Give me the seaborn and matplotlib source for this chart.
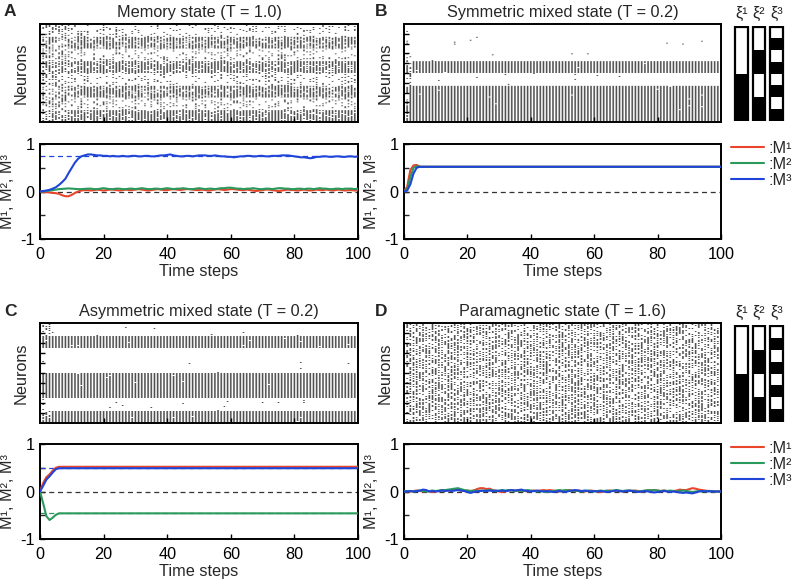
import numpy as np
import pandas as pd
import matplotlib
matplotlib.use("Agg")
import matplotlib.pyplot as plt
from matplotlib.colors import ListedColormap
from matplotlib.lines import Line2D
import seaborn as sns

sns.set_theme(style="white")
plt.rcParams["font.family"] = ["Liberation Sans", "DejaVu Sans"]
plt.rcParams["axes.unicode_minus"] = False

# ---------------- data ----------------
time_steps = list(range(101))

# stored patterns, 8 neuron blocks from top to bottom (1 = black / active, -1 = white)
xi1 = [-1, -1, -1, -1, 1, 1, 1, 1]
xi2 = [-1, -1, 1, 1, -1, -1, 1, 1]
xi3 = [-1, 1, -1, 1, -1, 1, -1, 1]
pattern_labels = ["ξ¹", "ξ²", "ξ³"]

n_neurons = 100

panel_titles = ["Memory state (T = 1.0)", "Symmetric mixed state (T = 0.2)",
                "Asymmetric mixed state (T = 0.2)", "Paramagnetic state (T = 1.6)"]
panel_letters = ["A", "B", "C", "D"]
temperatures = [1.0, 0.2, 0.2, 1.6]

# overlaps M1, M2, M3 per time step
A_M1 = [0.00, -0.01, -0.015, -0.02, -0.03, -0.035, -0.05, -0.08, -0.10, -0.10, -0.07, -0.03, 0.00, 0.02, 0.03,
        0.03, 0.02, 0.03, 0.04, 0.03, 0.02, 0.03, 0.04, 0.04, 0.03, 0.02, 0.03, 0.04, 0.03, 0.03,
        0.04, 0.05, 0.04, 0.03, 0.02, 0.03, 0.04, 0.05, 0.04, 0.03, 0.03, 0.04, 0.05, 0.04, 0.03,
        0.04, 0.05, 0.05, 0.04, 0.03, 0.03, 0.04, 0.03, 0.02, 0.03, 0.04, 0.05, 0.04, 0.03, 0.04,
        0.05, 0.05, 0.04, 0.03, 0.03, 0.04, 0.03, 0.02, 0.01, 0.02, 0.03, 0.04, 0.04, 0.03, 0.02,
        0.01, 0.02, 0.03, 0.04, 0.03, 0.03, 0.02, 0.03, 0.04, 0.03, 0.02, 0.03, 0.04, 0.03, 0.03,
        0.04, 0.03, 0.02, 0.03, 0.04, 0.03, 0.02, 0.03, 0.03, 0.02, 0.03]
A_M2 = [0.00, 0.005, 0.01, 0.02, 0.03, 0.04, 0.05, 0.055, 0.06, 0.065, 0.06, 0.055, 0.05, 0.05, 0.055,
        0.06, 0.06, 0.05, 0.05, 0.06, 0.07, 0.06, 0.05, 0.05, 0.06, 0.06, 0.05, 0.05, 0.06, 0.06,
        0.05, 0.06, 0.07, 0.06, 0.05, 0.05, 0.06, 0.06, 0.05, 0.06, 0.07, 0.06, 0.05, 0.06, 0.06,
        0.07, 0.06, 0.05, 0.05, 0.06, 0.07, 0.06, 0.05, 0.06, 0.06, 0.05, 0.06, 0.07, 0.07, 0.08,
        0.08, 0.07, 0.06, 0.06, 0.05, 0.06, 0.06, 0.07, 0.06, 0.05, 0.05, 0.06, 0.06, 0.05, 0.06,
        0.07, 0.07, 0.06, 0.06, 0.05, 0.05, 0.06, 0.06, 0.05, 0.06, 0.06, 0.05, 0.06, 0.07, 0.06,
        0.06, 0.05, 0.05, 0.06, 0.06, 0.05, 0.06, 0.06, 0.06, 0.05, 0.06]
A_M3 = [0.00, 0.01, 0.02, 0.035, 0.06, 0.09, 0.14, 0.20, 0.27, 0.39, 0.50, 0.61, 0.69, 0.74, 0.76,
        0.78, 0.78, 0.77, 0.76, 0.76, 0.75, 0.75, 0.74, 0.75, 0.74, 0.74, 0.75, 0.74, 0.74, 0.75,
        0.75, 0.74, 0.74, 0.75, 0.75, 0.74, 0.74, 0.75, 0.76, 0.76, 0.77, 0.78, 0.76, 0.75, 0.74,
        0.74, 0.75, 0.75, 0.74, 0.75, 0.76, 0.76, 0.76, 0.75, 0.75, 0.76, 0.75, 0.74, 0.74, 0.73,
        0.73, 0.72, 0.73, 0.74, 0.74, 0.75, 0.75, 0.74, 0.74, 0.75, 0.75, 0.74, 0.74, 0.75, 0.75,
        0.75, 0.76, 0.76, 0.76, 0.75, 0.74, 0.73, 0.72, 0.72, 0.71, 0.70, 0.71, 0.73, 0.73, 0.74,
        0.74, 0.73, 0.73, 0.74, 0.74, 0.73, 0.73, 0.74, 0.74, 0.73, 0.74]

B_M1 = [0.00, 0.10, 0.45, 0.55, 0.56, 0.52] + [0.52] * 95
B_M2 = [0.00, 0.05, 0.30, 0.50, 0.53, 0.52] + [0.52] * 95
B_M3 = [0.00, 0.02, 0.15, 0.38, 0.50, 0.52] + [0.52] * 95

C_M1 = [0.00, 0.18, 0.30, 0.36, 0.44, 0.50, 0.52] + [0.52] * 94
C_M2 = [0.00, -0.25, -0.52, -0.60, -0.55, -0.49, -0.46] + [-0.46] * 94
C_M3 = [0.00, 0.12, 0.25, 0.32, 0.40, 0.47, 0.49] + [0.49] * 94

D_M1 = [0.00, 0.01, 0.00, 0.01, 0.02, 0.01, 0.00, 0.01, 0.00, -0.01, 0.00, 0.01, 0.02, 0.03, 0.02,
        0.03, 0.04, 0.03, 0.02, 0.01, 0.02, 0.01, 0.02, 0.05, 0.07, 0.07, 0.05, 0.06, 0.03, 0.01,
        0.00, -0.01, 0.00, 0.02, 0.03, 0.02, 0.01, 0.02, 0.01, 0.00, 0.01, 0.02, 0.01, 0.02, 0.03,
        0.02, 0.03, 0.02, 0.01, 0.00, 0.01, 0.02, 0.03, 0.02, 0.01, 0.02, 0.01, 0.00, 0.01, 0.02,
        0.01, 0.00, -0.01, 0.00, 0.01, 0.02, 0.01, 0.02, 0.01, 0.00, 0.01, 0.02, 0.01, 0.02, 0.01,
        0.00, 0.01, 0.02, 0.03, 0.03, 0.02, 0.01, 0.02, 0.01, 0.00, 0.01, 0.02, 0.04, 0.03, 0.03,
        0.05, 0.07, 0.06, 0.04, 0.03, 0.02, 0.01, 0.01, 0.00, 0.00, 0.00]
D_M2 = [0.00, 0.01, 0.01, 0.00, 0.01, 0.02, 0.01, 0.00, 0.01, 0.02, 0.01, 0.02, 0.03, 0.03, 0.04,
        0.05, 0.06, 0.07, 0.05, 0.03, 0.02, 0.01, 0.02, 0.01, 0.02, 0.01, 0.02, 0.03, 0.02, 0.01,
        0.02, 0.03, 0.02, 0.03, 0.02, 0.01, 0.02, 0.01, 0.02, 0.03, 0.02, 0.01, 0.00, 0.01, 0.00,
        -0.01, 0.00, 0.01, 0.02, 0.03, 0.02, 0.03, 0.02, 0.01, 0.02, 0.01, 0.00, 0.01, 0.02, 0.01,
        0.00, 0.01, 0.02, 0.01, 0.02, 0.01, 0.02, 0.03, 0.02, 0.01, 0.02, 0.01, 0.02, 0.01, 0.00,
        0.01, 0.02, 0.03, 0.02, 0.03, 0.02, 0.01, 0.02, 0.01, 0.02, 0.01, 0.00, 0.01, 0.02, 0.01,
        0.00, -0.01, 0.00, 0.01, 0.00, 0.01, 0.00, 0.01, 0.00, 0.00, 0.00]
D_M3 = [0.00, 0.00, 0.01, 0.00, 0.01, 0.02, 0.04, 0.03, 0.00, 0.01, 0.00, 0.01, 0.02, 0.01, 0.02,
        0.01, 0.02, 0.03, 0.02, 0.01, -0.01, -0.03, -0.01, 0.00, 0.01, 0.02, 0.01, 0.02, 0.01, 0.02,
        0.01, 0.02, 0.01, 0.02, 0.03, 0.02, 0.03, 0.04, 0.02, 0.01, 0.00, 0.01, 0.02, 0.01, 0.00,
        0.01, 0.00, -0.01, 0.00, 0.01, 0.00, -0.01, 0.01, 0.02, 0.03, 0.02, 0.01, 0.02, 0.01, 0.00,
        0.01, 0.00, 0.01, 0.00, -0.01, 0.00, 0.01, 0.02, 0.01, 0.00, 0.01, 0.02, 0.01, 0.00, -0.01,
        0.00, 0.01, 0.00, -0.01, -0.02, -0.01, 0.00, 0.01, 0.00, -0.01, 0.00, -0.01, -0.02, -0.03, -0.02,
        -0.03, -0.04, -0.02, 0.00, 0.01, 0.00, 0.01, 0.00, 0.00, 0.00, 0.00]

# theoretical fixed-point levels shown as dashed guide lines (value, series index)
guides = [[(0.74, 2)], [], [(0.50, 2), (-0.46, 1)], []]

series_names = ["M1", "M2", "M3"]
series_colors = ["#e8452c", "#2a9a5c", "#1f45d8"]
legend_labels = [":M¹", ":M²", ":M³"]

panels_M = [(A_M1, A_M2, A_M3), (B_M1, B_M2, B_M3), (C_M1, C_M2, C_M3), (D_M1, D_M2, D_M3)]

# ---------------- figure ----------------
W, H = 797, 588
fig = plt.figure(figsize=(W / 100, H / 100), dpi=100)
FS = 11.7


def fax(l, t, r, b):
    return fig.add_axes([l / W, 1 - b / H, (r - l) / W, (b - t) / H])


def box(ax):
    for s in ax.spines.values():
        s.set_visible(True)
        s.set_color("black")
        s.set_linewidth(1.4)
    ax.tick_params(direction="in", length=3.5, width=1, colors="black",
                   top=False, right=False, left=True, bottom=True)
    ax.tick_params(which="minor", direction="in", length=3.5, width=1, left=True)


patterns = np.array([xi1, xi2, xi3])  # (3, 8)
block_of = (np.arange(n_neurons) * 8) // n_neurons
xi_neuron = patterns[:, block_of]  # (3, n_neurons)

cols_x = [(40, 358), (404, 721)]
letter_x = [4, 375]
rows_y = [((24, 122), (144, 239)), ((323, 423), (444, 539))]

spike_cmap = ListedColormap(["white", "#505050"])
SUB = 2  # sub-columns per time step (1 spike + gap)

for k in range(4):
    r, c = divmod(k, 2)
    (l, rr) = cols_x[c]
    (rt, rb), (lt, lb) = rows_y[r]
    M = np.array(panels_M[k])  # (3, 101)
    T = temperatures[k]

    # ----- raster -----
    axr = fax(l, rt, rr, rb)
    h = xi_neuron.T @ M  # (n_neurons, 101)
    p = 1.0 / (1.0 + np.exp(-2.0 * h / T))
    ii, tt = np.meshgrid(np.arange(n_neurons), np.array(time_steps), indexing="ij")
    u = np.sin(ii * 12.9898 + tt * 78.233 + k * 4.1414) * 43758.5453
    u = u - np.floor(u)
    spikes = (u < p).astype(float)
    img = np.zeros((n_neurons, SUB * len(time_steps)))
    img[:, 0::SUB] = spikes
    w0 = 0.5 / SUB
    axr.imshow(img, cmap=spike_cmap, aspect="auto", vmin=0, vmax=1,
               extent=[-w0, len(time_steps) - w0, n_neurons, 0], interpolation="antialiased")
    axr.set_xlim(0, 100)
    axr.set_ylim(n_neurons, 0)
    axr.set_xticks([20, 40, 60, 80])
    axr.set_yticks(range(10, 100, 10))
    axr.set_xticklabels([])
    axr.set_yticklabels([])
    box(axr)
    axr.set_ylabel("Neurons", fontsize=FS)
    axr.yaxis.set_label_coords(-0.036, 0.5)
    axr.set_title(panel_titles[k], fontsize=FS, pad=5)
    fig.text(letter_x[c] / W, 1 - (rt - 12) / H, panel_letters[k], fontsize=12.5,
             fontweight="bold", ha="left", va="center")

    # ----- overlaps -----
    axl = fax(l, lt, rr, lb)
    df = pd.DataFrame({
        "t": np.tile(time_steps, 3),
        "M": M.ravel(),
        "series": np.repeat(series_names, len(time_steps)),
    })
    axl.axhline(0, color="#333333", lw=0.9, ls=(0, (4, 3)), zorder=1)
    for val, si in guides[k]:
        axl.axhline(val, color=series_colors[si], lw=0.9, ls=(0, (4, 3)), zorder=1)
    sns.lineplot(data=df, x="t", y="M", hue="series", hue_order=series_names,
                 palette=dict(zip(series_names, series_colors)), linewidth=1.5,
                 legend=False, errorbar=None, ax=axl, zorder=3)
    axl.set_xlim(0, 100)
    axl.set_ylim(-1, 1)
    axl.set_xticks(range(0, 101, 20))
    axl.set_yticks([-1, 0, 1])
    axl.set_yticks([-0.5, 0.5], minor=True)
    axl.tick_params(axis="x", labelsize=FS, pad=6)
    axl.tick_params(axis="y", labelsize=FS, pad=4)
    box(axl)
    axl.set_xlabel("Time steps", fontsize=FS, labelpad=1)
    axl.set_ylabel("M¹, M², M³", fontsize=FS)
    axl.yaxis.set_label_coords(-0.078, 0.5)

    # ----- patterns + legend on right column -----
    if c == 1:
        axp = fax(732, rt + 2, 786, rb - 1)
        for j in range(3):
            for b in range(8):
                axp.bar(j, 1, bottom=b, width=0.72,
                        color="black" if patterns[j, b] == 1 else "white",
                        edgecolor="none")
            axp.bar(j, 8, bottom=0, width=0.72, fill=False, edgecolor="black", linewidth=1.6)
            axp.text(j, -0.45, pattern_labels[j], ha="center", va="bottom", fontsize=FS)
        axp.set_xlim(-0.55, 2.55)
        axp.set_ylim(8.05, -0.05)
        axp.axis("off")

        handles = [Line2D([], [], color=cc, lw=1.5) for cc in series_colors]
        fig.legend(handles, legend_labels, loc="upper left",
                   bbox_to_anchor=(731 / W, 1 - (lt - 3) / H), frameon=False,
                   fontsize=FS, handlelength=2.0, handletextpad=0.3,
                   labelspacing=0.05, borderpad=0, borderaxespad=0)

fig.savefig("out.png", dpi=100)
